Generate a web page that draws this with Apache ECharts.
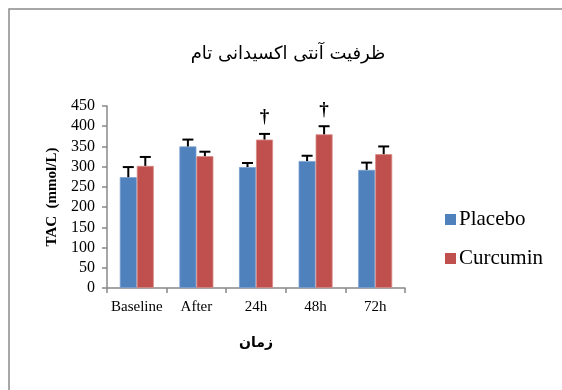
<!DOCTYPE html>
<html>
<head>
<meta charset="utf-8">
<script src="https://cdn.jsdelivr.net/npm/echarts@6/dist/echarts.min.js"></script>
<style>
  html, body { margin: 0; padding: 0; background: #fff; }
  #chart { width: 562px; height: 390px; }
</style>
</head>
<body>
<div id="chart"></div>
<script>
// Total antioxidant capacity by time point
const categories = ['Baseline', 'After', '24h', '48h', '72h'];
const placebo = [274, 350, 299, 314, 292];
const placeboErr = [25, 17, 10, 13, 18];
const curcumin = [302, 326, 367, 380, 331];
const curcuminErr = [22, 11, 14, 20, 19];
// Significance markers shown above the curcumin bars
const curcuminSig = ['', '', '†', '†', ''];
const yTicks = [0, 50, 100, 150, 200, 250, 300, 350, 400, 450];

const serif = '"Liberation Serif", "Times New Roman", "DejaVu Serif", serif';
const arabic = '"DejaVu Sans", "Noto Sans", sans-serif';
const BAR_W = 17;

function errorSeries(name, values, errs, offset, marks) {
  return {
    name: name + ' err',
    type: 'custom',
    z: 5,
    silent: true,
    data: values.map((v, i) => [i, v, v + errs[i], marks ? marks[i] : '']),
    renderItem: function (params, api) {
      const i = api.value(0);
      const base = api.coord([i, api.value(1)]);
      const top = api.coord([i, api.value(2)]);
      const x = base[0] + offset;
      const half = 5.5;
      const style = { stroke: '#000', lineWidth: 2 };
      const children = [
        { type: 'line', shape: { x1: x, y1: base[1], x2: x, y2: top[1] }, style: style },
        { type: 'line', shape: { x1: x - half, y1: top[1], x2: x + half, y2: top[1] }, style: style }
      ];
      const mark = api.value(3);
      if (mark) {
        children.push({
          type: 'text',
          style: {
            text: mark, x: x, y: top[1] - 7,
            fill: '#000', font: 'bold 19px ' + serif,
            align: 'center', verticalAlign: 'bottom'
          }
        });
      }
      return { type: 'group', children: children };
    }
  };
}

const chart = echarts.init(document.getElementById('chart'), null, { renderer: 'canvas' });
chart.setOption({
  animation: false,
  backgroundColor: '#fff',
  graphic: [{
    type: 'rect',
    shape: { x: 9, y: 9, width: 700, height: 500 },
    style: { fill: 'none', stroke: '#8a8a8a', lineWidth: 1.5 },
    z: -1
  }],
  title: {
    text: 'ظرفیت آنتی اکسیدانی تام',
    left: 283, top: 40,
    textAlign: 'center',
    textStyle: { fontFamily: arabic, fontSize: 18, fontWeight: 'normal', color: '#000' }
  },
  legend: {
    orient: 'vertical',
    left: 440, top: 204,
    itemWidth: 11, itemHeight: 11, itemGap: 18,
    icon: 'rect',
    itemStyle: { borderWidth: 0 },
    data: ['Placebo', 'Curcumin'],
    textStyle: { fontFamily: serif, fontSize: 21, color: '#000', padding: [0, 0, 0, -2] }
  },
  grid: { left: 107, right: 157, top: 106, bottom: 102 },
  xAxis: {
    type: 'category',
    data: categories,
    name: 'زمان',
    nameLocation: 'middle',
    nameGap: 48,
    nameTextStyle: { fontFamily: arabic, fontSize: 14, fontWeight: 'bold', color: '#000' },
    axisLine: { lineStyle: { color: '#888', width: 1.5 } },
    axisTick: { show: true, length: 5, lineStyle: { color: '#888', width: 1.5 } },
    axisLabel: { fontFamily: serif, fontSize: 15, color: '#000', margin: 12, interval: 0 }
  },
  yAxis: {
    type: 'value',
    min: yTicks[0], max: yTicks[yTicks.length - 1], interval: 50,
    name: 'TAC  (mmol/L)',
    nameLocation: 'middle',
    nameGap: 45,
    nameTextStyle: { fontFamily: serif, fontSize: 15, fontWeight: 'bold', color: '#000' },
    axisLine: { show: true, lineStyle: { color: '#888', width: 1.5 } },
    axisTick: { show: true, length: 5, lineStyle: { color: '#888', width: 1.5 } },
    splitLine: { show: false },
    axisLabel: { fontFamily: serif, fontSize: 16, color: '#000', margin: 12 }
  },
  series: [
    {
      name: 'Placebo', type: 'bar', data: placebo,
      barWidth: BAR_W, barGap: '0%',
      itemStyle: { color: '#4f81bd', borderColor: '#7aa0d0', borderWidth: 0.8 }
    },
    {
      name: 'Curcumin', type: 'bar', data: curcumin,
      barWidth: BAR_W, barGap: '0%',
      itemStyle: { color: '#c0504d', borderColor: '#d88a88', borderWidth: 0.8 }
    },
    errorSeries('Placebo', placebo, placeboErr, -BAR_W / 2),
    errorSeries('Curcumin', curcumin, curcuminErr, BAR_W / 2, curcuminSig)
  ]
});
</script>
</body>
</html>
